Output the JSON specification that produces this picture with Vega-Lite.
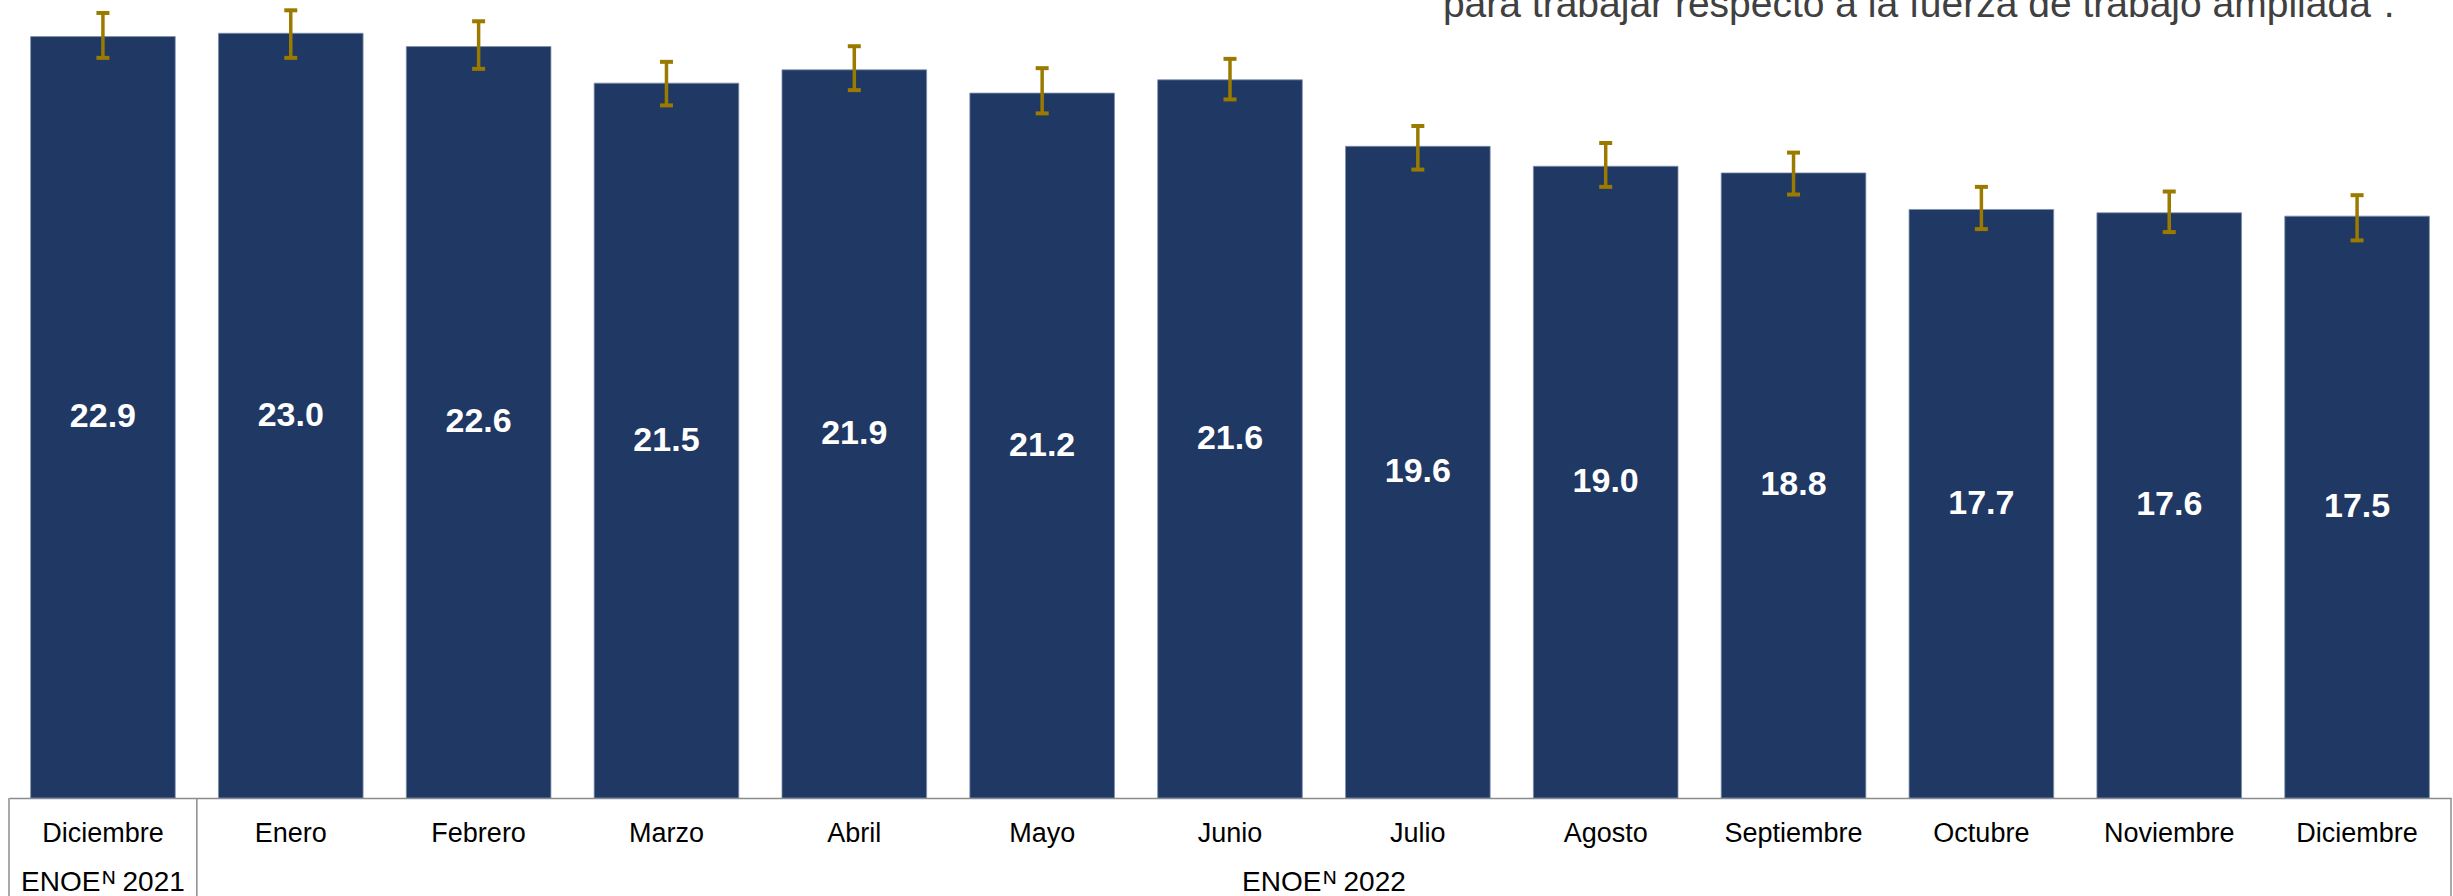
{
  "$schema": "https://vega.github.io/schema/vega-lite/v6.json",
  "width": 2442,
  "height": 798,
  "autosize": {"type": "none"},
  "padding": {"left": 9, "top": 0, "right": 2, "bottom": 98},
  "background": "#ffffff",
  "config": {
    "view": {"stroke": null},
    "font": "Liberation Sans",
    "locale": {
      "time": {
        "dateTime": "%A, %e de %B de %Y, %X",
        "date": "%d/%m/%Y",
        "time": "%H:%M:%S",
        "periods": ["AM", "PM"],
        "days": ["domingo", "lunes", "martes", "miércoles", "jueves", "viernes", "sábado"],
        "shortDays": ["dom", "lun", "mar", "mié", "jue", "vie", "sáb"],
        "months": ["Enero", "Febrero", "Marzo", "Abril", "Mayo", "Junio", "Julio", "Agosto", "Septiembre", "Octubre", "Noviembre", "Diciembre"],
        "shortMonths": ["ene", "feb", "mar", "abr", "may", "jun", "jul", "ago", "sep", "oct", "nov", "dic"]
      }
    }
  },
  "data": {
    "values": [
      {"fecha": "2021-12-15", "anio": 2021, "mes": "Diciembre", "periodo": "ENOE\u200aᴺ 2021", "valor": 22.9, "li": 22.26, "ls": 23.61},
      {"fecha": "2022-01-15", "anio": 2022, "mes": "Enero", "periodo": "ENOE\u200aᴺ 2022", "valor": 23.0, "li": 22.26, "ls": 23.69},
      {"fecha": "2022-02-15", "anio": 2022, "mes": "Febrero", "periodo": "ENOE\u200aᴺ 2022", "valor": 22.6, "li": 21.93, "ls": 23.36},
      {"fecha": "2022-03-15", "anio": 2022, "mes": "Marzo", "periodo": "ENOE\u200aᴺ 2022", "valor": 21.5, "li": 20.83, "ls": 22.14},
      {"fecha": "2022-04-15", "anio": 2022, "mes": "Abril", "periodo": "ENOE\u200aᴺ 2022", "valor": 21.9, "li": 21.29, "ls": 22.61},
      {"fecha": "2022-05-15", "anio": 2022, "mes": "Mayo", "periodo": "ENOE\u200aᴺ 2022", "valor": 21.2, "li": 20.59, "ls": 21.95},
      {"fecha": "2022-06-15", "anio": 2022, "mes": "Junio", "periodo": "ENOE\u200aᴺ 2022", "valor": 21.6, "li": 21.01, "ls": 22.23},
      {"fecha": "2022-07-15", "anio": 2022, "mes": "Julio", "periodo": "ENOE\u200aᴺ 2022", "valor": 19.6, "li": 18.90, "ls": 20.21},
      {"fecha": "2022-08-15", "anio": 2022, "mes": "Agosto", "periodo": "ENOE\u200aᴺ 2022", "valor": 19.0, "li": 18.38, "ls": 19.70},
      {"fecha": "2022-09-15", "anio": 2022, "mes": "Septiembre", "periodo": "ENOE\u200aᴺ 2022", "valor": 18.8, "li": 18.15, "ls": 19.41},
      {"fecha": "2022-10-15", "anio": 2022, "mes": "Octubre", "periodo": "ENOE\u200aᴺ 2022", "valor": 17.7, "li": 17.11, "ls": 18.38},
      {"fecha": "2022-11-15", "anio": 2022, "mes": "Noviembre", "periodo": "ENOE\u200aᴺ 2022", "valor": 17.6, "li": 17.02, "ls": 18.24},
      {"fecha": "2022-12-15", "anio": 2022, "mes": "Diciembre", "periodo": "ENOE\u200aᴺ 2022", "valor": 17.5, "li": 16.77, "ls": 18.13}
    ]
  },
  "encoding": {
    "x": {
      "field": "fecha", "timeUnit": "yearmonth", "type": "ordinal",
      "scale": {"paddingInner": 0, "paddingOuter": 0},
      "axis": {"title": null, "format": "%B", "formatType": "time", "labelAngle": 0, "ticks": false, "tickSize": 0, "labelPadding": 22, "labelFontSize": 27, "labelColor": "#000000", "labelFont": "Liberation Sans", "domainColor": "#8c8c8c", "domainWidth": 1.5, "grid": false}
    }
  },
  "layer": [
    {
      "layer": [
        {
          "mark": {"type": "bar", "color": "#203864", "width": {"band": 0.77}, "stroke": "#8090AA", "strokeWidth": 0.8},
          "encoding": {"y": {"field": "valor", "type": "quantitative", "scale": {"domain": [0, 24]}, "axis": null}}
        },
        {
          "mark": {"type": "rule", "color": "#9B7A00", "strokeWidth": 3.5},
          "encoding": {
            "y": {"field": "li", "type": "quantitative", "scale": {"domain": [0, 24]}, "axis": null},
            "y2": {"field": "ls"}
          }
        },
        {
          "mark": {"type": "tick", "color": "#9B7A00", "size": 13, "thickness": 4, "opacity": 1},
          "encoding": {"y": {"field": "li", "type": "quantitative", "scale": {"domain": [0, 24]}, "axis": null}}
        },
        {
          "mark": {"type": "tick", "color": "#9B7A00", "size": 13, "thickness": 4, "opacity": 1},
          "encoding": {"y": {"field": "ls", "type": "quantitative", "scale": {"domain": [0, 24]}, "axis": null}}
        },
        {
          "transform": [{"filter": {"field": "anio", "equal": 2021}}],
          "mark": {"type": "rule", "color": "#8c8c8c", "strokeWidth": 1.5},
          "encoding": {
            "x": {
              "field": "fecha", "timeUnit": "yearmonth", "type": "ordinal", "bandPosition": 0,
              "scale": {"paddingInner": 0, "paddingOuter": 0},
              "axis": {"title": null, "format": "%B", "formatType": "time", "labelAngle": 0, "ticks": false, "tickSize": 0, "labelPadding": 22, "labelFontSize": 27, "labelColor": "#000000", "labelFont": "Liberation Sans", "domainColor": "#8c8c8c", "domainWidth": 1.5, "grid": false}
            },
            "y": {"datum": 0, "type": "quantitative", "scale": {"domain": [0, 24]}, "axis": null},
            "y2": {"datum": -3}
          }
        },
        {
          "transform": [{"filter": {"field": "mes", "equal": "Diciembre"}}],
          "mark": {"type": "rule", "color": "#8c8c8c", "strokeWidth": 1.5},
          "encoding": {
            "x": {
              "field": "fecha", "timeUnit": "yearmonth", "type": "ordinal", "bandPosition": 1,
              "scale": {"paddingInner": 0, "paddingOuter": 0},
              "axis": {"title": null, "format": "%B", "formatType": "time", "labelAngle": 0, "ticks": false, "tickSize": 0, "labelPadding": 22, "labelFontSize": 27, "labelColor": "#000000", "labelFont": "Liberation Sans", "domainColor": "#8c8c8c", "domainWidth": 1.5, "grid": false}
            },
            "y": {"datum": 0, "type": "quantitative", "scale": {"domain": [0, 24]}, "axis": null},
            "y2": {"datum": -3}
          }
        },
        {
          "transform": [{"filter": {"field": "anio", "equal": 2021}}],
          "mark": {"type": "text", "fontSize": 28, "color": "#000000", "baseline": "alphabetic", "align": "center", "font": "Liberation Sans"},
          "encoding": {
            "y": {"datum": -2.81, "type": "quantitative", "scale": {"domain": [0, 24]}, "axis": null},
            "text": {"field": "periodo"}
          }
        },
        {
          "transform": [{"filter": {"field": "mes", "equal": "Junio"}}],
          "mark": {"type": "text", "fontSize": 28, "color": "#000000", "baseline": "alphabetic", "align": "center", "font": "Liberation Sans"},
          "encoding": {
            "x": {
              "field": "fecha", "timeUnit": "yearmonth", "type": "ordinal", "bandPosition": 1,
              "scale": {"paddingInner": 0, "paddingOuter": 0},
              "axis": {"title": null, "format": "%B", "formatType": "time", "labelAngle": 0, "ticks": false, "tickSize": 0, "labelPadding": 22, "labelFontSize": 27, "labelColor": "#000000", "labelFont": "Liberation Sans", "domainColor": "#8c8c8c", "domainWidth": 1.5, "grid": false}
            },
            "y": {"datum": -2.81, "type": "quantitative", "scale": {"domain": [0, 24]}, "axis": null},
            "text": {"field": "periodo"}
          }
        },
        {
          "transform": [{"filter": {"field": "anio", "equal": 2021}}],
          "mark": {"type": "text", "fontSize": 39, "color": "#404040", "baseline": "alphabetic", "align": "right", "font": "Liberation Sans", "text": "para trabajar respecto a la fuerza de trabajo ampliada”."},
          "encoding": {
            "x": {
              "datum": {"year": 2022, "month": 12, "date": 1}, "timeUnit": "yearmonth", "type": "ordinal", "bandPosition": 0.7,
              "scale": {"paddingInner": 0, "paddingOuter": 0},
              "axis": {"title": null, "format": "%B", "formatType": "time", "labelAngle": 0, "ticks": false, "tickSize": 0, "labelPadding": 22, "labelFontSize": 27, "labelColor": "#000000", "labelFont": "Liberation Sans", "domainColor": "#8c8c8c", "domainWidth": 1.5, "grid": false}
            },
            "y": {"datum": 23.49, "type": "quantitative", "scale": {"domain": [0, 24]}, "axis": null}
          }
        }
      ]
    },
    {
      "mark": {"type": "text", "color": "#ffffff", "fontWeight": "bold", "fontSize": 34, "baseline": "middle", "align": "center", "font": "Liberation Sans"},
      "encoding": {
        "y": {"field": "valor", "type": "quantitative", "scale": {"domain": [0, 48]}, "axis": null},
        "text": {"field": "valor", "type": "quantitative", "format": ".1f"}
      }
    }
  ],
  "resolve": {"scale": {"y": "independent"}}
}
